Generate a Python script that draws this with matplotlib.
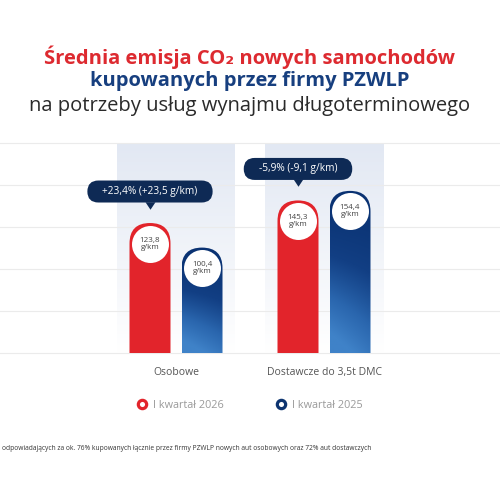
import numpy as np
import matplotlib.pyplot as plt
import matplotlib.patches as mpatches
from matplotlib.colors import LinearSegmentedColormap
from matplotlib.lines import Line2D

plt.rcParams['font.family'] = ['Open Sans', 'DejaVu Sans']

# dane
categories = ['Osobowe', 'Dostawcze do 3,5t DMC']
q1_2026 = [123.8, 145.3]
q1_2025 = [100.4, 154.4]
change_labels = ['+23,4% (+23,5 g/km)', '-5,9% (-9,1 g/km)']
series_names = ['I kwartał 2026', 'I kwartał 2025']
y_ticks = [0, 40, 80, 120, 160, 200]

RED = '#e2242b'
NAVY = '#0e2a55'
GRID = '#ebebeb'

W, H = 500, 500
fig = plt.figure(figsize=(5, 5), dpi=100)
fig.patch.set_facecolor('white')

ax_l, ax_b, ax_w, ax_h = 0.0, 147 / H, 1.0, 210 / H
ax = fig.add_axes([ax_l, ax_b, ax_w, ax_h])
xlim = (-176 / 148, (W - 176) / 148)
ax.set_xlim(xlim)
ax.set_ylim(0, y_ticks[-1])
ax.set_facecolor('none')
for s in ax.spines.values():
    s.set_visible(False)

px_x = ax_w * W / (xlim[1] - xlim[0])   # piksele na jednostke x
px_y = ax_h * H / y_ticks[-1]           # piksele na jednostke y
asp = px_x / px_y

bw = 41 / px_x       # szerokosc slupka
off = 26 / px_x      # przesuniecie od srodka grupy
band_w = 118 / px_x

# siatka
for t in y_ticks:
    ax.axhline(t, color=GRID, lw=0.8, zorder=1, clip_on=False)

# podswietlenie grup
band_cmap = LinearSegmentedColormap.from_list('band', ['#e2e8f3', '#ffffff'])
band_grad = np.linspace(0, 1, 200).reshape(-1, 1)
for i in range(len(categories)):
    ax.imshow(band_grad, cmap=band_cmap, aspect='auto', origin='upper',
              extent=[i - band_w / 2, i + band_w / 2, 0, y_ticks[-1]], zorder=0.5)

blue_cmap = LinearSegmentedColormap.from_list('blue', ['#0a3272', '#123f84', '#2a66ae', '#3f82c8'])
ny, nx = 200, 40
tv = np.linspace(0, 1, ny).reshape(-1, 1)
tx = np.linspace(0, 1, nx).reshape(1, -1)


def rounded_bar(xc, v, color):
    p = mpatches.FancyBboxPatch((xc - bw / 2, -40), bw, v + 40,
                                boxstyle=f'round,pad=0,rounding_size={bw / 2}',
                                mutation_aspect=asp, facecolor=color,
                                edgecolor='none', zorder=3)
    ax.add_patch(p)
    return p


r_y = (bw / 2) * asp
for i, (a, b) in enumerate(zip(q1_2026, q1_2025)):
    rounded_bar(i - off, a, RED)
    pb = rounded_bar(i + off, b, 'none')
    grad = np.clip(tv ** 1.4 * (0.85 + 0.35 * (1 - tx)), 0, 1)
    im = ax.imshow(grad, cmap=blue_cmap, vmin=0, vmax=1, aspect='auto', origin='upper',
                   extent=[i + off - bw / 2, i + off + bw / 2, 0, b], zorder=3)
    im.set_clip_path(pb)

    for xc, v in [(i - off, a), (i + off, b)]:
        ax.scatter([xc], [v - r_y], s=(37 * 72 / 100) ** 2, color='white', zorder=4,
                   linewidths=0)
        ax.text(xc, v - r_y, f'{v:.1f}'.replace('.', ',') + '\ng/km', ha='center',
                va='center', fontsize=5.8, color='#444444', linespacing=1.0, zorder=5)

# dymki ze zmiana
fig.canvas.draw()
rend = fig.canvas.get_renderer()
for i, a in enumerate(q1_2026):
    yc = a + 30
    t = ax.text(i - off, yc, change_labels[i], ha='center', va='center',
                fontsize=7.3, color='white', zorder=7)
    bb = t.get_window_extent(rend)
    tw = bb.width / px_x
    bx_w = tw + 30 / px_x
    bx_h = 22 / px_y
    bub = mpatches.FancyBboxPatch((i - off - bx_w / 2, yc - bx_h / 2), bx_w, bx_h,
                                  boxstyle=f'round,pad=0,rounding_size={bx_h / 2 / asp}',
                                  mutation_aspect=asp, facecolor=NAVY,
                                  edgecolor='none', zorder=6)
    ax.add_patch(bub)
    ax.plot([i - off], [yc - bx_h / 2], marker=[(-0.8, 0.2), (0.8, 0.2), (0, -1)],
            markersize=9, color=NAVY, markeredgewidth=0, zorder=6)

ax.set_xticks(range(len(categories)))
ax.set_xticklabels(categories, fontsize=7.5, color='#555555')
ax.tick_params(axis='x', length=0, pad=10)
ax.set_yticks([])

# legenda
handles = [Line2D([], [], lw=0, marker='o', markersize=6, markerfacecolor='white',
                  markeredgecolor=c, markeredgewidth=2.3) for c in [RED, '#0d3470']]
fig.legend(handles, series_names, loc='center', bbox_to_anchor=(0.5, 1 - 405 / H),
           ncol=2, frameon=False, fontsize=7.8, labelcolor='#9a9a9a',
           handlelength=1, handletextpad=0.5, columnspacing=4.8)

# tytul
fig.text(0.5, 1 - 57 / H, 'Średnia emisja CO₂ nowych samochodów', ha='center',
         va='center', fontsize=14.5, fontweight='bold', color='#dd2a30')
fig.text(0.5, 1 - 81 / H, 'kupowanych przez firmy PZWLP', ha='center', va='center',
         fontsize=14.5, fontweight='bold', color='#173f7f')
fig.text(0.5, 1 - 106 / H, 'na potrzeby usług wynajmu długoterminowego', ha='center',
         va='center', fontsize=14.5, color='#2a2a2a')

# przypis
fig.text(0.004, 1 - 449 / H, 'odpowiadających za ok. 76% kupowanych łącznie przez firmy '
         'PZWLP nowych aut osobowych oraz 72% aut dostawczych', ha='left', va='center',
         fontsize=4.8, color='#333333')

fig.savefig('out.png', dpi=100)
